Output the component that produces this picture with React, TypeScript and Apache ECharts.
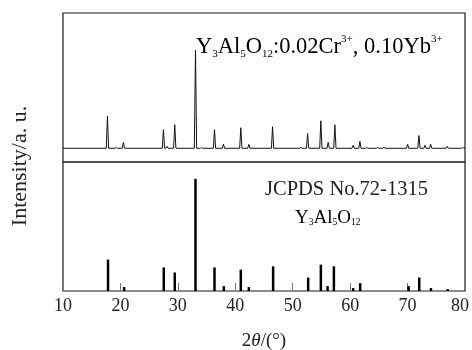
import React, { useEffect, useRef } from "react";
import * as echarts from "echarts";

// Top panel: measured pattern (peak positions in 2θ/°, relative intensities)
const samplePeaks2Theta = [17.74, 19.3, 20.52, 27.49, 28.12, 29.46, 33.07, 34.12, 36.38, 37.95, 40.96, 42.36, 46.49, 51.42, 52.59, 54.9, 56.18, 57.34, 60.53, 61.7, 62.87, 64.83, 65.88, 70.01, 71.98, 73.02, 74.02, 76.91, 79.59];
const samplePeakIntensity = [33, 1, 6, 19, 2, 24, 100, 1, 19, 4, 21, 4, 22, 1, 15, 28, 6, 24, 3, 7, 1, 1, 1, 4, 13, 3, 4, 2, 1];

// Bottom panel: JCPDS No.72-1315 reference lines
const refLines2Theta = [17.84, 20.65, 27.55, 29.46, 33.07, 36.38, 38.01, 40.96, 42.36, 46.59, 52.69, 54.9, 56.07, 57.17, 60.53, 61.75, 70.18, 72.03, 74.07, 76.98];
const refLinesIntensity = [28, 3.5, 21, 16.5, 100, 21, 4.3, 19, 3.5, 22, 12, 23.5, 4.3, 22, 2.6, 7, 4.3, 12, 2.6, 1.7];

const xTicks = [10, 20, 30, 40, 50, 60, 70, 80];

const SERIF = '"Liberation Serif", "Times New Roman", serif';

export default function App() {
  const ref = useRef<HTMLDivElement>(null);
  useEffect(() => {
    if (!ref.current) return;
    const chart = echarts.init(ref.current, null, { renderer: "svg" });

    const halfWidth = 0.2;
    const lineData: number[][] = [[xTicks[0], 0]];
    samplePeaks2Theta.forEach((x, i) => {
      lineData.push([x - halfWidth, 0], [x, samplePeakIntensity[i]], [x + halfWidth, 0]);
    });
    lineData.push([xTicks[xTicks.length - 1], 0]);

    const refData = refLines2Theta.map((x, i) => [x, refLinesIntensity[i]]);

    const richTop = {
      n: { fontFamily: SERIF, fontSize: 22.5, color: "#222", lineHeight: 26 },
      s: { fontFamily: SERIF, fontSize: 11, color: "#222", lineHeight: 14, verticalAlign: "bottom" },
      p: { fontFamily: SERIF, fontSize: 11, color: "#222", lineHeight: 14, verticalAlign: "top" },
    };
    const richBottom = {
      n: { fontFamily: SERIF, fontSize: 19, color: "#222", lineHeight: 22 },
      s: { fontFamily: SERIF, fontSize: 9.5, color: "#222", lineHeight: 11, verticalAlign: "bottom" },
    };

    chart.setOption({
      animation: false,
      grid: [
        { left: 63, top: 13, width: 402, height: 149, show: true, borderColor: "#1a1a1a", borderWidth: 1.2, backgroundColor: "transparent" },
        { left: 63, top: 162, width: 402, height: 132, show: true, borderColor: "#1a1a1a", borderWidth: 1.2, backgroundColor: "transparent" },
      ],
      xAxis: [
        {
          type: "value", gridIndex: 0, min: 10, max: 80, interval: 10,
          axisLine: { show: false }, axisTick: { show: false }, axisLabel: { show: false }, splitLine: { show: false },
        },
        {
          type: "value", gridIndex: 1, min: 10, max: 80, interval: 10,
          axisLine: { show: false },
          axisTick: { show: true, inside: true, length: 8, lineStyle: { color: "#777", width: 1 } },
          splitLine: { show: false },
          axisLabel: {
            margin: 5, fontFamily: SERIF, fontSize: 18, color: "#222",
            formatter: (v: number) => (v === 80 ? "{r|80}" : String(v)),
            rich: { r: { fontFamily: SERIF, fontSize: 18, color: "#222", padding: [0, 10, 0, 0] } },
          },
          name: "2{i|θ}/(°)",
          nameLocation: "middle",
          nameGap: 39,
          nameTextStyle: {
            fontFamily: SERIF, fontSize: 19, color: "#222",
            rich: { i: { fontFamily: SERIF, fontSize: 19, color: "#222", fontStyle: "italic" } },
          },
        },
      ],
      yAxis: [
        { type: "value", gridIndex: 0, min: -14, max: 138, show: false, splitLine: { show: false } },
        { type: "value", gridIndex: 1, min: 0, max: 115, show: false, splitLine: { show: false } },
      ],
      series: [
        {
          type: "line", xAxisIndex: 0, yAxisIndex: 0, data: lineData,
          symbol: "none", lineStyle: { color: "#111", width: 1 }, silent: true,
        },
        {
          type: "custom", xAxisIndex: 1, yAxisIndex: 1, data: refData,
          encode: { x: 0, y: 1 }, silent: true,
          renderItem: (params: any, api: any) => {
            const x = api.value(0);
            const h = api.value(1);
            const p0 = api.coord([x, 0]);
            const p1 = api.coord([x, h]);
            return {
              type: "rect",
              shape: { x: p0[0] - 1.25, y: p1[1], width: 2.5, height: p0[1] - p1[1] },
              style: { fill: "#000" },
            };
          },
        },
      ],
      graphic: [
        {
          type: "text", x: 18, y: 166, rotation: Math.PI / 2,
          style: { text: "Intensity/a. u.", fontFamily: SERIF, fontSize: 22, fill: "#222", align: "center", verticalAlign: "middle" },
        },
        {
          type: "text", x: 196, y: 45,
          style: {
            text: "{n|Y}{s|3}{n|Al}{s|5}{n|O}{s|12}{n|:0.02Cr}{p|3+}{n|, 0.10Yb}{p|3+}",
            rich: richTop, align: "left", verticalAlign: "middle",
          },
        },
        {
          type: "text", x: 265, y: 188,
          style: { text: "JCPDS No.72-1315", fontFamily: SERIF, fontSize: 20.5, fill: "#222", align: "left", verticalAlign: "middle" },
        },
        {
          type: "text", x: 295, y: 216,
          style: {
            text: "{n|Y}{s|3}{n|Al}{s|5}{n|O}{s|12}",
            rich: richBottom, align: "left", verticalAlign: "middle",
          },
        },
      ],
    });
    return () => chart.dispose();
  }, []);
  return <div ref={ref} style={{ position: "fixed", left: 0, top: 0, width: 472, height: 350 }} />;
}
